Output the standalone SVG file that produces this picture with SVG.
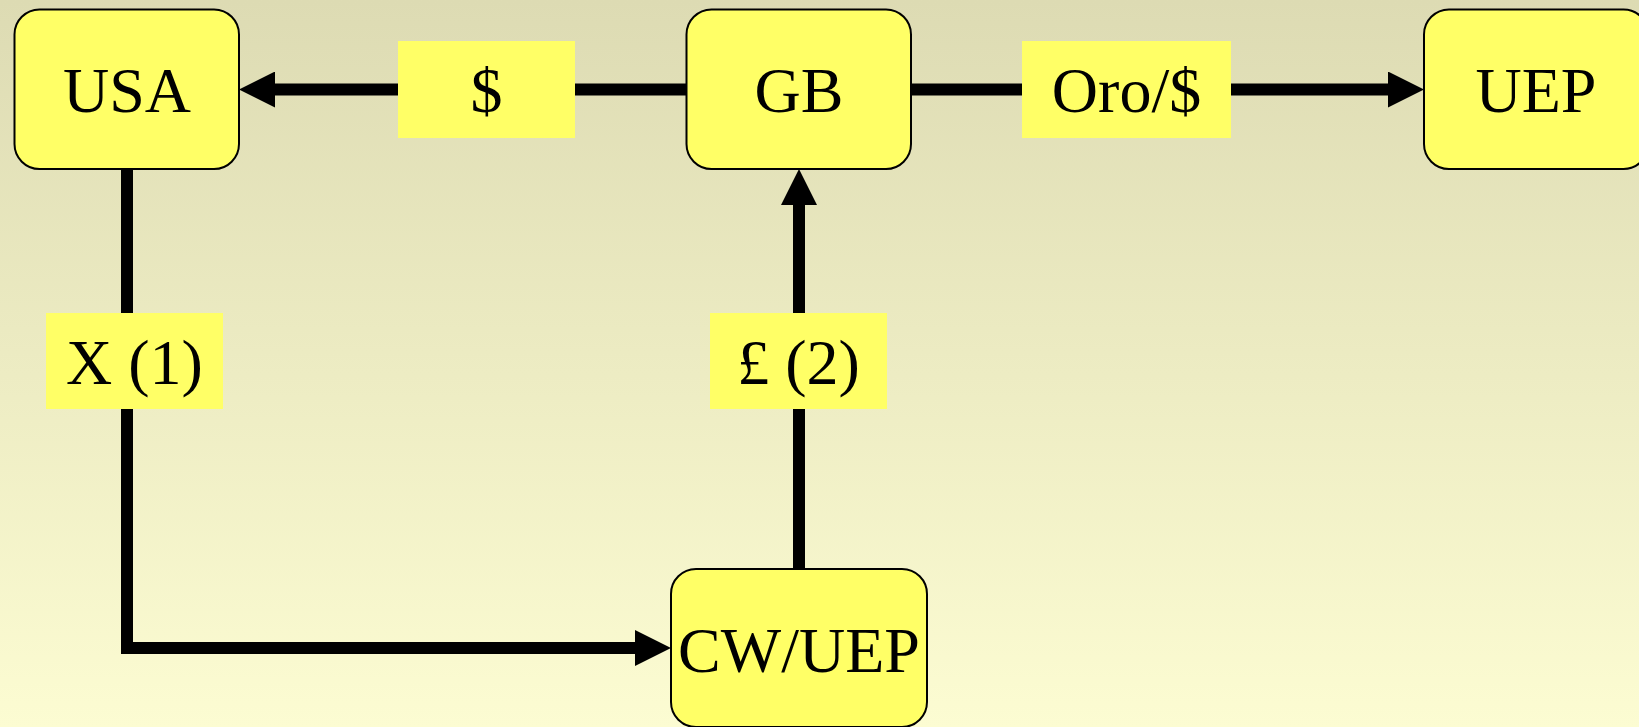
<svg xmlns="http://www.w3.org/2000/svg" width="1639" height="727" viewBox="0 0 1639 727">
  <defs>
    <linearGradient id="bg" x1="0" y1="0" x2="0" y2="1">
      <stop offset="0" stop-color="#dddbb3"/>
      <stop offset="1" stop-color="#fcfcd2"/>
    </linearGradient>
    <!-- arrowhead starts where the line ends, so the thick stroke never pokes past the tip -->
    <marker id="head" viewBox="0 0 36 36" markerWidth="36" markerHeight="36" refX="0" refY="18" orient="auto" markerUnits="userSpaceOnUse">
      <path d="M0,0 L36,18 L0,36 Z" fill="#000"/>
    </marker>
    <style>
      .node { fill: #ffff66; stroke: #000; stroke-width: 2; }
      .label { fill: #ffff66; }
      .txt { font-family: "Liberation Serif", "Times New Roman", serif; font-size: 64px; fill: #000; text-anchor: middle; }
      .edge { fill: none; stroke: #000; stroke-width: 12; }
    </style>
  </defs>

  <rect width="1639" height="727" fill="url(#bg)"/>

  <!-- connectors -->
  <g id="connectors">
    <path class="edge" d="M687,89.5 H275" marker-end="url(#head)"/>
    <path class="edge" d="M911,89.5 H1388" marker-end="url(#head)"/>
    <path class="edge" d="M127,169 V648 H635" marker-end="url(#head)"/>
    <path class="edge" d="M799,569 V205" marker-end="url(#head)"/>
    <!-- edge labels -->
    <g id="label-dollar">
      <rect class="label" x="398" y="41" width="177" height="97"/>
      <text class="txt" x="486.5" y="112">$</text>
    </g>
    <g id="label-oro">
      <rect class="label" x="1022" y="41" width="209" height="97"/>
      <text class="txt" x="1126.5" y="112">Oro/$</text>
    </g>
    <g id="label-x1">
      <rect class="label" x="46" y="313" width="177" height="96"/>
      <text class="txt" x="134.5" y="384">X (1)</text>
    </g>
    <g id="label-pound2">
      <rect class="label" x="710" y="313" width="177" height="96"/>
      <text class="txt" x="798.5" y="384">£ (2)</text>
    </g>
  </g>

  <g id="node-usa">
    <rect class="node" x="14.5" y="9.5" width="224.5" height="159.5" rx="25" ry="25"/>
    <text class="txt" x="127" y="112">USA</text>
  </g>
  <g id="node-gb">
    <rect class="node" x="686.5" y="9.5" width="224.5" height="159.5" rx="25" ry="25"/>
    <text class="txt" x="799" y="112">GB</text>
  </g>
  <g id="node-uep">
    <rect class="node" x="1424" y="9.5" width="224.5" height="159.5" rx="25" ry="25"/>
    <text class="txt" x="1536" y="112">UEP</text>
  </g>
  <g id="node-cwuep">
    <rect class="node" x="671" y="569" width="256" height="158" rx="25" ry="25"/>
    <text class="txt" x="799" y="672">CW/UEP</text>
  </g>
</svg>
